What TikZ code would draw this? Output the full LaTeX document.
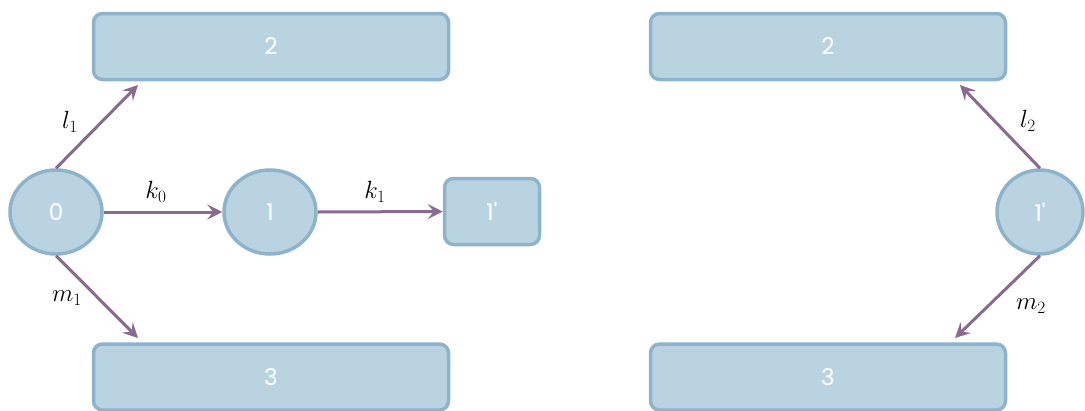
\documentclass[tikz,border=0pt]{standalone}
\usepackage{fontspec}
\usetikzlibrary{shapes.geometric,arrows.meta}
\newfontfamily\boxfont{Poppins}
\definecolor{boxfill}{HTML}{BAD3E0}
\definecolor{boxline}{HTML}{8DB4CC}
\definecolor{arrcol}{HTML}{8A6A8E}
\tikzset{
  bigbox/.style={draw=boxline, fill=boxfill, line width=3.5pt, rounded corners=9pt,
    minimum width=355pt, minimum height=66pt, inner sep=0pt,
    text=white, font=\boxfont\fontsize{23}{27}\selectfont},
  smallbox/.style={bigbox, minimum width=95pt, minimum height=66pt},
  circ/.style={ellipse, draw=boxline, fill=boxfill, line width=3.5pt,
    minimum width=92pt, minimum height=84pt, inner sep=0pt,
    text=white, font=\boxfont\fontsize{23}{27}\selectfont},
  conn/.style={draw=arrcol, line width=3pt, -{Stealth[length=15pt,width=15pt,inset=6pt]}},
  lbl/.style={font=\fontsize{26}{30}\selectfont, inner sep=0pt}
}
\begin{document}
\begin{tikzpicture}[x=1pt,y=-1pt]
\useasboundingbox (0,0) rectangle (1085,410);
% left side
\node[bigbox] (b2) at (271,46.5) {2};
\node[bigbox] (b3) at (271,377) {3};
\node[circ] (c0) at (56,212) {0};
\node[circ] (c1) at (270,212) {1};
\node[smallbox] (b1p) at (492,211.5) {1'};
% right side
\node[bigbox] (r2) at (828,46.5) {2};
\node[bigbox] (r3) at (828,377) {3};
\node[circ, minimum width=86pt] (r1p) at (1040,212) {1'};
% connectors
\coordinate (a2) at (138,85);
\coordinate (a3) at (138,338);
\coordinate (ra2) at (960,85);
\coordinate (ra3) at (955,338);
\draw[conn] (c0.north) -- (a2);
\draw[conn] (c0.east) -- (c1.west);
\draw[conn] (c1.east) -- (b1p.west);
\draw[conn] (c0.south) -- (a3);
\draw[conn] (r1p.north) -- (ra2);
\draw[conn] (r1p.south) -- (ra3);
% labels
\node[lbl] (ll1) at (70,122) {$l_1$};
\node[lbl] (lk0) at (156,192) {$k_0$};
\node[lbl] (lk1) at (375,192) {$k_1$};
\node[lbl] (lm1) at (67,298) {$m_1$};
\node[lbl] (ll2) at (1028,121) {$l_2$};
\node[lbl] (lm2) at (1031,306) {$m_2$};
\end{tikzpicture}
\end{document}
